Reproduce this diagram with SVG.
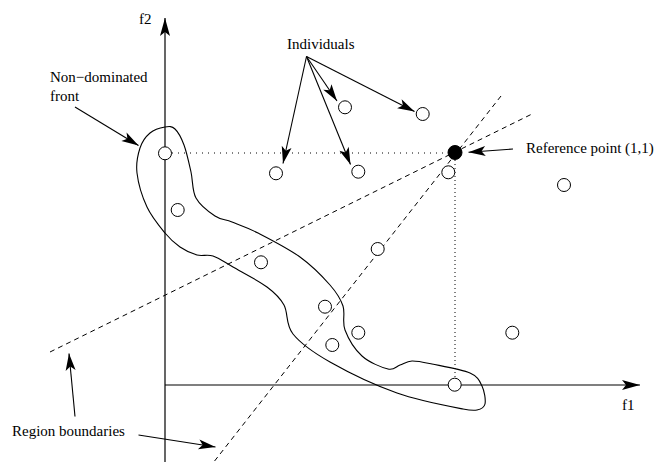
<svg xmlns="http://www.w3.org/2000/svg" width="660" height="468" viewBox="0 0 660 468">
<style>
  .lbl { font-family: "Liberation Serif", "Times New Roman", serif; font-size: 15px; fill: #000; }
  .pt { fill: #fff; stroke: #000; stroke-width: 1; }
  .arrow { stroke: #000; stroke-width: 1.1; fill: none; marker-end: url(#ah); }
  .axis { stroke: #000; stroke-width: 1.2; fill: none; marker-end: url(#ahb); }
  .dash { stroke: #000; stroke-width: 1; fill: none; stroke-dasharray: 5 4; }
  .dot { stroke: #000; stroke-width: 1; fill: none; stroke-dasharray: 1 5; }
  .dotv { stroke: #000; stroke-width: 1; fill: none; stroke-dasharray: 1 3; }
  .front { stroke: #000; stroke-width: 1.1; fill: none; }
</style>
<defs>
  <marker id="ah" markerUnits="userSpaceOnUse" viewBox="-18 -6 19 12" markerWidth="19" markerHeight="12" refX="0" refY="0" orient="auto">
    <path d="M0,0 L-17,-5 L-13,0 L-17,5 Z" fill="#000"/>
  </marker>
  <marker id="ahb" markerUnits="userSpaceOnUse" viewBox="-19 -6 20 12" markerWidth="20" markerHeight="12" refX="0" refY="0" orient="auto">
    <path d="M0,0 L-18,-5 L-14,0 L-18,5 Z" fill="#000"/>
  </marker>
</defs>
<rect width="660" height="468" fill="#fff"/>

<g id="front-region">
  <path class="front" d="M140,148 C142.17,141.33 145.83,136.5 150,133 C154.17,129.5 160.83,127.67 165,127 C169.17,126.33 171.83,126 175,129 C178.17,132 181.33,137.83 184,145 C186.67,152.17 189,163.17 191,172 C193,180.83 192,190.67 196,198 C200,205.33 209,212 215,216 C221,220 224.83,219.17 232,222 C239.17,224.83 246.67,227.17 258,233 C269.33,238.83 288,248.33 300,257 C312,265.67 322.83,276.83 330,285 C337.17,293.17 340.5,298.5 343,306 C345.5,313.5 341.83,321.67 345,330 C348.17,338.33 354.83,349.5 362,356 C369.17,362.5 381.67,367.5 388,369 C394.33,370.5 396,366.33 400,365 C404,363.67 406.67,361.17 412,361 C417.33,360.83 422.33,362 432,364 C441.67,366 461.67,369.33 470,373 C478.33,376.67 479.5,380.83 482,386 C484.5,391.17 485.83,400 485,404 C484.17,408 480.67,409.17 477,410 C473.33,410.83 468,410 463,409 C458,408 419.17,400.83 397,393 C374.83,385.17 347.33,371.83 330,362 C312.67,352.17 300.67,343.5 293,334 C285.33,324.5 288.33,312.83 284,305 C279.67,297.17 275.5,293.33 267,287 C258.5,280.67 242,272.17 233,267 C224,261.83 219,258 213,256 C207,254 202.5,256.5 197,255 C191.67,253.5 185.33,250.67 180,247 C174.67,243.33 170.5,239.67 165,233 C159.5,226.33 151.67,217 147,207 C142.33,197 138.17,182.83 137,173 C135.83,163.17 137.83,154.67 140,148 Z"/>
</g>

<g id="connectors">
  <line class="axis" x1="165" y1="462" x2="165" y2="18"/>
  <line class="axis" x1="165" y1="385" x2="640" y2="385"/>
  <line class="dot" x1="172" y1="153" x2="448" y2="153"/>
  <line class="dotv" x1="455" y1="160" x2="455" y2="378"/>
  <line class="dash" x1="50" y1="352" x2="532" y2="114"/>
  <line class="dash" x1="501" y1="96" x2="213" y2="463"/>
  <line class="arrow" x1="75" y1="107" x2="138.5" y2="145.5"/>
  <line class="arrow" x1="306.5" y1="56.5" x2="283" y2="163.5"/>
  <line class="arrow" x1="306.5" y1="56.5" x2="337" y2="101"/>
  <line class="arrow" x1="306.5" y1="56.5" x2="350.5" y2="164.5"/>
  <line class="arrow" x1="306.5" y1="56.5" x2="414.5" y2="111.5"/>
  <line class="arrow" x1="513" y1="149" x2="468.5" y2="152.3"/>
  <line class="arrow" x1="75" y1="416.5" x2="69" y2="353.5"/>
  <line class="arrow" x1="138.5" y1="435" x2="215.5" y2="447"/>
</g>

<g id="p1"><circle class="pt" cx="165" cy="153.3" r="6.5"/></g>
<g id="p2"><circle class="pt" cx="177.7" cy="210" r="6.5"/></g>
<g id="p3"><circle class="pt" cx="276" cy="173.3" r="6.5"/></g>
<g id="p4"><circle class="pt" cx="345" cy="107.3" r="6.5"/></g>
<g id="p5"><circle class="pt" cx="422.7" cy="114" r="6.5"/></g>
<g id="p6"><circle class="pt" cx="358.3" cy="171.7" r="6.5"/></g>
<g id="p7"><circle class="pt" cx="448.3" cy="172.3" r="6.5"/></g>
<g id="p8"><circle class="pt" cx="564" cy="185" r="6.5"/></g>
<g id="p9"><circle class="pt" cx="377.7" cy="249" r="6.5"/></g>
<g id="p10"><circle class="pt" cx="261" cy="262.3" r="6.5"/></g>
<g id="p11"><circle class="pt" cx="325" cy="306.7" r="6.5"/></g>
<g id="p12"><circle class="pt" cx="358.3" cy="332.7" r="6.5"/></g>
<g id="p13"><circle class="pt" cx="332.3" cy="345" r="6.5"/></g>
<g id="p14"><circle class="pt" cx="512.3" cy="332.7" r="6.5"/></g>
<g id="p15"><circle class="pt" cx="454.7" cy="384.7" r="6.5"/></g>
<g id="ref-point"><circle cx="455" cy="152.5" r="7" fill="#000" stroke="#000" stroke-width="1"/></g>

<g id="labels">
  <text class="lbl" x="139" y="24">f2</text>
  <text class="lbl" x="622" y="410">f1</text>
  <text class="lbl" x="287" y="49">Individuals</text>
  <text class="lbl" x="50" y="82">Non−dominated</text>
  <text class="lbl" x="50" y="101">front</text>
  <text class="lbl" x="526" y="153">Reference point (1,1)</text>
  <text class="lbl" x="12" y="435.5">Region boundaries</text>
</g>
</svg>
